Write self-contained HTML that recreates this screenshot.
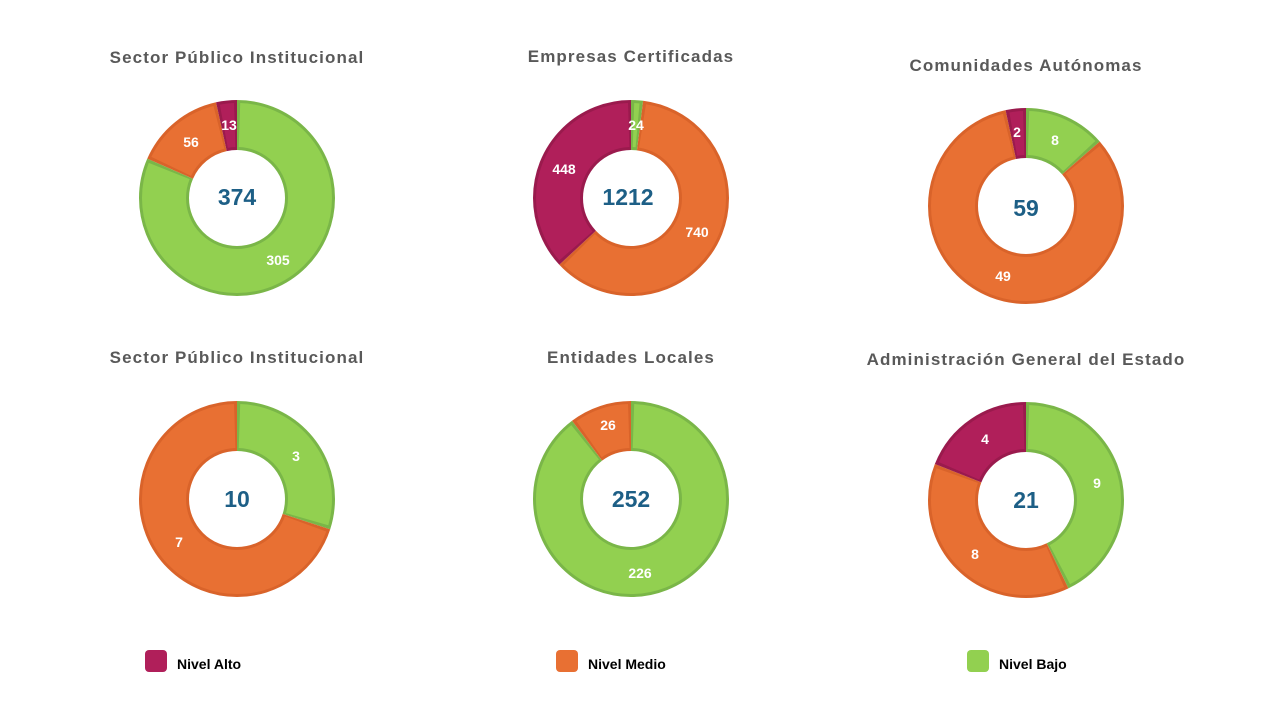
<!DOCTYPE html>
<html><head><meta charset="utf-8"><style>
body{margin:0;width:1280px;height:720px;background:#fff;overflow:hidden;font-family:"Liberation Sans",sans-serif}
svg{position:absolute;left:0;top:0}
.t{font-weight:bold;fill:#595959;font-size:17px;letter-spacing:1.1px;text-anchor:middle}
.c{font-weight:bold;fill:#1D5F86;font-size:23px;text-anchor:middle}
.l{font-weight:bold;fill:#fff;font-size:14px;text-anchor:middle}
.g{font-weight:bold;fill:#000;font-size:14px}
</style></head><body>
<svg width="1280" height="720" viewBox="0 0 1280 720">
<g transform="translate(237,198) rotate(-90)" fill="none" stroke-width="50">
<circle r="73" stroke="#7AB648" stroke-dasharray="374.05 1000" stroke-dashoffset="0"/>
<circle r="73" stroke="#D9632A" stroke-dasharray="68.68 1000" stroke-dashoffset="-374.05"/>
<circle r="73" stroke="#9A1A4D" stroke-dasharray="15.94 1000" stroke-dashoffset="-442.73"/>
<circle r="73" stroke="#92D050" stroke-width="44" stroke-dasharray="369.05 1000" stroke-dashoffset="-2.5"/>
<circle r="73" stroke="#E87033" stroke-width="44" stroke-dasharray="63.68 1000" stroke-dashoffset="-376.55"/>
<circle r="73" stroke="#B01F5A" stroke-width="44" stroke-dasharray="10.94 1000" stroke-dashoffset="-445.23"/>
</g>
<text class="t" x="237" y="63">Sector Público Institucional</text>
<text class="c" x="237" y="205">374</text>
<text class="l" x="229" y="130">13</text><text class="l" x="191" y="147">56</text><text class="l" x="278" y="265">305</text>
<g transform="translate(631,198) rotate(-90)" fill="none" stroke-width="50">
<circle r="73" stroke="#7AB648" stroke-dasharray="9.08 1000" stroke-dashoffset="0"/>
<circle r="73" stroke="#D9632A" stroke-dasharray="280.05 1000" stroke-dashoffset="-9.08"/>
<circle r="73" stroke="#9A1A4D" stroke-dasharray="169.54 1000" stroke-dashoffset="-289.13"/>
<circle r="73" stroke="#92D050" stroke-width="44" stroke-dasharray="4.08 1000" stroke-dashoffset="-2.5"/>
<circle r="73" stroke="#E87033" stroke-width="44" stroke-dasharray="275.05 1000" stroke-dashoffset="-11.58"/>
<circle r="73" stroke="#B01F5A" stroke-width="44" stroke-dasharray="164.54 1000" stroke-dashoffset="-291.63"/>
</g>
<text class="t" x="631" y="62">Empresas Certificadas</text>
<text class="c" x="628" y="205">1212</text>
<text class="l" x="636" y="130">24</text><text class="l" x="564" y="174">448</text><text class="l" x="697" y="237">740</text>
<g transform="translate(1026,206) rotate(-90)" fill="none" stroke-width="50">
<circle r="73" stroke="#7AB648" stroke-dasharray="62.19 1000" stroke-dashoffset="0"/>
<circle r="73" stroke="#D9632A" stroke-dasharray="380.94 1000" stroke-dashoffset="-62.19"/>
<circle r="73" stroke="#9A1A4D" stroke-dasharray="15.55 1000" stroke-dashoffset="-443.13"/>
<circle r="73" stroke="#92D050" stroke-width="44" stroke-dasharray="57.19 1000" stroke-dashoffset="-2.5"/>
<circle r="73" stroke="#E87033" stroke-width="44" stroke-dasharray="375.94 1000" stroke-dashoffset="-64.69"/>
<circle r="73" stroke="#B01F5A" stroke-width="44" stroke-dasharray="10.55 1000" stroke-dashoffset="-445.63"/>
</g>
<text class="t" x="1026" y="71">Comunidades Autónomas</text>
<text class="c" x="1026" y="216">59</text>
<text class="l" x="1017" y="137">2</text><text class="l" x="1055" y="145">8</text><text class="l" x="1003" y="281">49</text>
<g transform="translate(237,499) rotate(-90)" fill="none" stroke-width="50">
<circle r="73" stroke="#7AB648" stroke-dasharray="137.6 1000" stroke-dashoffset="0"/>
<circle r="73" stroke="#D9632A" stroke-dasharray="321.07 1000" stroke-dashoffset="-137.6"/>
<circle r="73" stroke="#92D050" stroke-width="44" stroke-dasharray="132.6 1000" stroke-dashoffset="-2.5"/>
<circle r="73" stroke="#E87033" stroke-width="44" stroke-dasharray="316.07 1000" stroke-dashoffset="-140.1"/>
</g>
<text class="t" x="237" y="363">Sector Público Institucional</text>
<text class="c" x="237" y="507">10</text>
<text class="l" x="296" y="461">3</text><text class="l" x="179" y="547">7</text>
<g transform="translate(631,499) rotate(-90)" fill="none" stroke-width="50">
<circle r="73" stroke="#7AB648" stroke-dasharray="411.35 1000" stroke-dashoffset="0"/>
<circle r="73" stroke="#D9632A" stroke-dasharray="47.32 1000" stroke-dashoffset="-411.35"/>
<circle r="73" stroke="#92D050" stroke-width="44" stroke-dasharray="406.35 1000" stroke-dashoffset="-2.5"/>
<circle r="73" stroke="#E87033" stroke-width="44" stroke-dasharray="42.32 1000" stroke-dashoffset="-413.85"/>
</g>
<text class="t" x="631" y="363">Entidades Locales</text>
<text class="c" x="631" y="507">252</text>
<text class="l" x="608" y="430">26</text><text class="l" x="640" y="578">226</text>
<g transform="translate(1026,500) rotate(-90)" fill="none" stroke-width="50">
<circle r="73" stroke="#7AB648" stroke-dasharray="196.57 1000" stroke-dashoffset="0"/>
<circle r="73" stroke="#D9632A" stroke-dasharray="174.73 1000" stroke-dashoffset="-196.57"/>
<circle r="73" stroke="#9A1A4D" stroke-dasharray="87.37 1000" stroke-dashoffset="-371.3"/>
<circle r="73" stroke="#92D050" stroke-width="44" stroke-dasharray="191.57 1000" stroke-dashoffset="-2.5"/>
<circle r="73" stroke="#E87033" stroke-width="44" stroke-dasharray="169.73 1000" stroke-dashoffset="-199.07"/>
<circle r="73" stroke="#B01F5A" stroke-width="44" stroke-dasharray="82.37 1000" stroke-dashoffset="-373.8"/>
</g>
<text class="t" x="1026" y="365">Administración General del Estado</text>
<text class="c" x="1026" y="508">21</text>
<text class="l" x="985" y="444">4</text><text class="l" x="1097" y="488">9</text><text class="l" x="975" y="559">8</text>
<rect x="145" y="650" width="22" height="22" rx="4" fill="#B01F5A"/><text class="g" x="177" y="669">Nivel Alto</text>
<rect x="556" y="650" width="22" height="22" rx="4" fill="#E87033"/><text class="g" x="588" y="669">Nivel Medio</text>
<rect x="967" y="650" width="22" height="22" rx="4" fill="#92D050"/><text class="g" x="999" y="669">Nivel Bajo</text>
</svg>
</body></html>
